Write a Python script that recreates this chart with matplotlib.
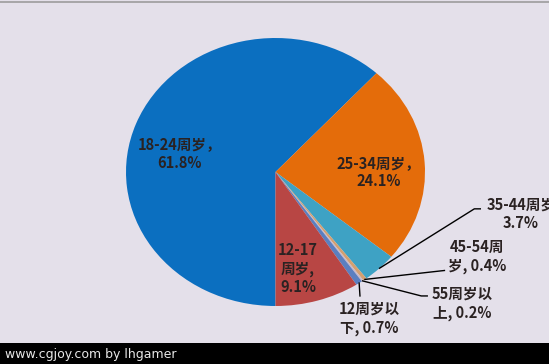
import numpy as np
import matplotlib
matplotlib.use("Agg")
import matplotlib.pyplot as plt

# --- DATA ---
age_groups = ["18-24周岁", "25-34周岁", "35-44周岁", "45-54周岁", "55周岁以上", "12周岁以下", "12-17周岁"]
shares = [61.8, 24.1, 3.7, 0.4, 0.2, 0.7, 9.1]
label_fmt = ["18-24周岁，\n{}%", "25-34周岁，\n{}%", "35-44周岁\n{}%", "45-54周\n岁, {}%",
             "55周岁以\n上, {}%", "12周岁以\n下, {}%", "12-17\n周岁,\n{}%"]
colors = ["#0b6fc0", "#e46c0a", "#3ea2c4", "#d4a070", "#c9b9c9", "#5b7fc0", "#b84644"]

# --- LAYOUT (data coords of the pie, radius 1) ---
label_pos = [(-0.64, 0.14), (0.69, 0.0), (1.64, -0.31), (1.35, -0.63),
             (1.25, -0.98), (0.63, -1.09), (0.15, -0.72)]
# leader line points after the wedge edge (None = label inside the slice)
leaders = [None, None, [(1.33, -0.275), (1.37, -0.275)], [(1.13, -0.735)],
           [(0.975, -0.925), (1.015, -0.925)], [(0.565, -0.925)], None]

plt.rcParams['font.family'] = ['Noto Sans CJK SC', 'DejaVu Sans']

fig = plt.figure(figsize=(5.49, 3.64), dpi=100)
fig.patch.set_facecolor("#e4e0ea")

# bottom black strip with watermark
strip = fig.add_axes([0, 0, 1, 21 / 364])
strip.set_facecolor("black")
strip.set_xticks([])
strip.set_yticks([])
for s in strip.spines.values():
    s.set_visible(False)
strip.text(5 / 549, 0.45, "www.cgjoy.com by lhgamer", color="#e8e8e8", fontsize=9,
           family="DejaVu Sans", va="center", ha="left", transform=strip.transAxes)

# thin grey line on top
fig.add_artist(plt.Line2D([0, 1], [1 - 1.5 / 364] * 2, color="#9c9c9c", lw=1.2,
                          transform=fig.transFigure))

ax = fig.add_axes([126 / 549, 58 / 364, 299 / 549, 268 / 364])
ax.set_facecolor("none")
wedges, _ = ax.pie(shares, colors=colors, startangle=-90, counterclock=False,
                   wedgeprops=dict(linewidth=0))
ax.set_aspect("auto")
ax.set_xlim(-1, 1)
ax.set_ylim(-1, 1)
ax.axis("off")

for w, fmt, val, pos, lead in zip(wedges, label_fmt, shares, label_pos, leaders):
    txt = fmt.format(val)
    ax.text(pos[0], pos[1], txt, ha="center", va="center", fontsize=10.5,
            fontweight="bold", color="#2a2222", linespacing=1.2, clip_on=False)
    if lead is not None:
        mid = np.deg2rad((w.theta1 + w.theta2) / 2)
        xs = [np.cos(mid)] + [p[0] for p in lead]
        ys = [np.sin(mid)] + [p[1] for p in lead]
        ax.plot(xs, ys, color="black", lw=1.0, clip_on=False)

fig.savefig("out.png", dpi=100, facecolor=fig.get_facecolor())
